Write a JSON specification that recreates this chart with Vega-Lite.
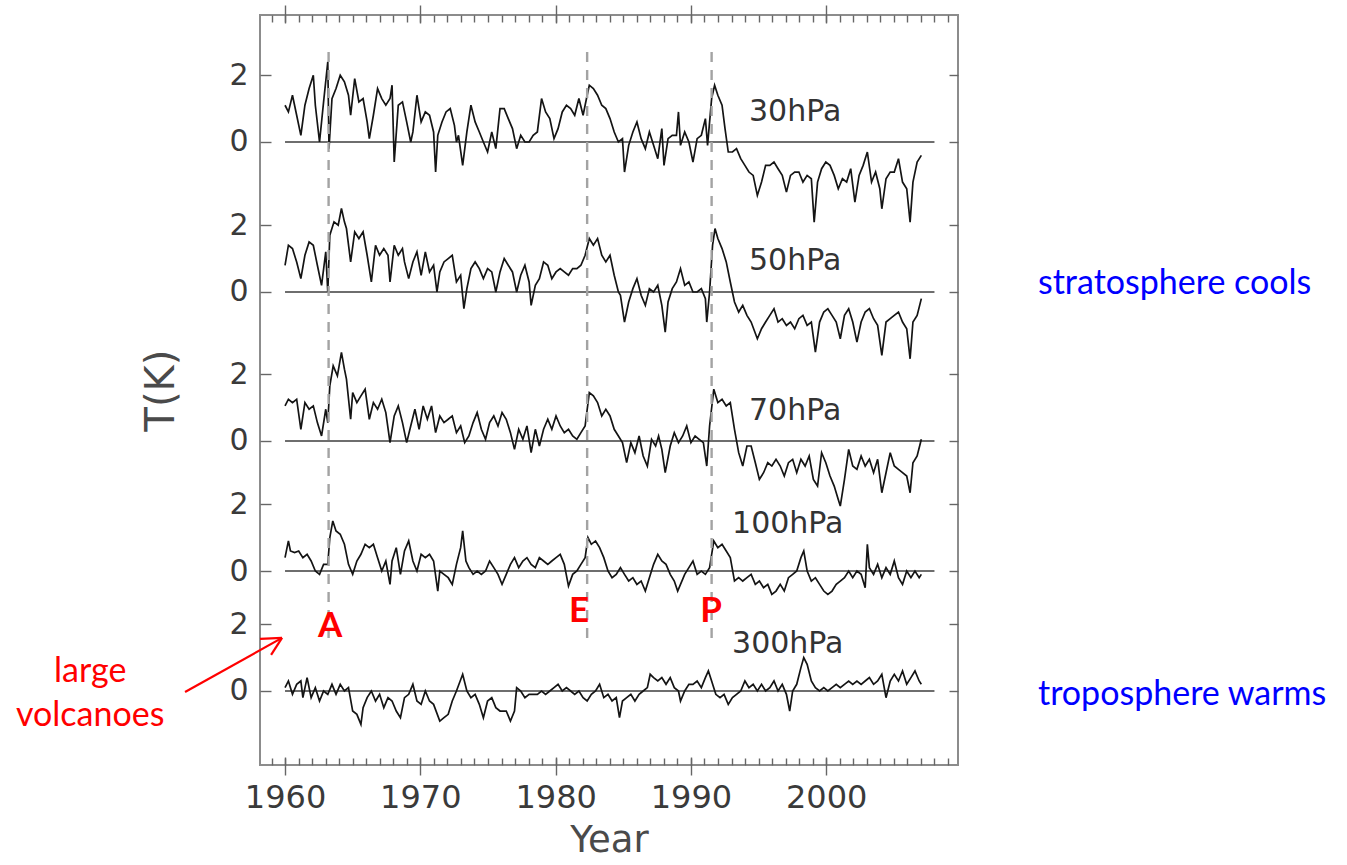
{
"$schema": "https://vega.github.io/schema/vega-lite/v6.json",
"width": 698, "height": 750,
"autosize": "none",
"padding": {"left": 260, "top": 15, "right": 389, "bottom": 100},
"background": "white",
"config": {
 "view": {"stroke": "#8c8c8c", "strokeWidth": 2},
 "axis": {"domain": false, "grid": false, "tickColor": "#666666", "tickWidth": 1.4, "labelColor": "#3a3a3a", "labelFont": "DejaVu Sans", "labelFontSize": 30, "titleFont": "DejaVu Sans", "titleFontWeight": "normal", "titleColor": "#4a4a4a"}
},
"datasets": {
"p30": [{"year":1960.00,"t":1.1},{"year":1960.25,"t":0.9},{"year":1960.55,"t":1.4},{"year":1960.86,"t":0.8},{"year":1961.17,"t":0.2},{"year":1961.47,"t":1.1},{"year":1961.78,"t":1.6},{"year":1962.09,"t":2.0},{"year":1962.24,"t":1.1},{"year":1962.55,"t":0.0},{"year":1962.85,"t":1.2},{"year":1963.16,"t":2.4},{"year":1963.25,"t":-0.2},{"year":1963.47,"t":1.3},{"year":1963.77,"t":1.6},{"year":1964.08,"t":2.0},{"year":1964.39,"t":1.8},{"year":1964.69,"t":1.4},{"year":1964.85,"t":0.8},{"year":1965.15,"t":1.9},{"year":1965.46,"t":1.2},{"year":1965.77,"t":1.3},{"year":1966.07,"t":0.6},{"year":1966.23,"t":0.1},{"year":1966.53,"t":0.8},{"year":1966.84,"t":1.6},{"year":1967.15,"t":1.3},{"year":1967.45,"t":1.1},{"year":1967.76,"t":1.3},{"year":1967.91,"t":1.7},{"year":1968.07,"t":-0.6},{"year":1968.37,"t":1.1},{"year":1968.68,"t":1.2},{"year":1968.99,"t":0.6},{"year":1969.29,"t":0.0},{"year":1969.45,"t":0.3},{"year":1969.75,"t":1.4},{"year":1970.06,"t":0.6},{"year":1970.37,"t":0.9},{"year":1970.68,"t":0.8},{"year":1970.98,"t":0.3},{"year":1971.13,"t":-0.9},{"year":1971.29,"t":0.2},{"year":1971.60,"t":0.6},{"year":1971.90,"t":0.9},{"year":1972.21,"t":1.0},{"year":1972.52,"t":0.5},{"year":1972.67,"t":0.0},{"year":1972.82,"t":0.2},{"year":1973.13,"t":-0.7},{"year":1973.44,"t":0.3},{"year":1973.74,"t":1.1},{"year":1974.05,"t":0.6},{"year":1974.36,"t":0.3},{"year":1974.66,"t":0.0},{"year":1974.97,"t":-0.3},{"year":1975.28,"t":0.3},{"year":1975.58,"t":-0.2},{"year":1975.89,"t":1.0},{"year":1976.20,"t":1.0},{"year":1976.50,"t":0.7},{"year":1976.81,"t":0.4},{"year":1977.12,"t":-0.2},{"year":1977.42,"t":0.2},{"year":1977.73,"t":0.0},{"year":1978.04,"t":0.0},{"year":1978.34,"t":0.2},{"year":1978.65,"t":0.3},{"year":1978.96,"t":1.3},{"year":1979.26,"t":0.9},{"year":1979.57,"t":0.7},{"year":1979.88,"t":0.1},{"year":1980.18,"t":0.4},{"year":1980.49,"t":0.9},{"year":1980.80,"t":1.1},{"year":1981.11,"t":1.0},{"year":1981.41,"t":0.8},{"year":1981.72,"t":1.3},{"year":1982.03,"t":0.8},{"year":1982.33,"t":1.4},{"year":1982.49,"t":1.7},{"year":1982.79,"t":1.6},{"year":1983.10,"t":1.4},{"year":1983.41,"t":1.1},{"year":1983.71,"t":1.0},{"year":1984.02,"t":0.7},{"year":1984.33,"t":0.3},{"year":1984.64,"t":0.0},{"year":1984.94,"t":0.1},{"year":1985.09,"t":-0.9},{"year":1985.40,"t":-0.1},{"year":1985.71,"t":0.3},{"year":1986.01,"t":0.6},{"year":1986.32,"t":0.1},{"year":1986.63,"t":-0.2},{"year":1986.93,"t":0.3},{"year":1987.24,"t":-0.1},{"year":1987.55,"t":-0.5},{"year":1987.85,"t":0.4},{"year":1988.01,"t":-0.7},{"year":1988.31,"t":0.1},{"year":1988.62,"t":0.2},{"year":1988.93,"t":0.2},{"year":1989.08,"t":0.9},{"year":1989.23,"t":-0.1},{"year":1989.54,"t":0.3},{"year":1989.85,"t":0.0},{"year":1990.15,"t":-0.6},{"year":1990.46,"t":0.1},{"year":1990.77,"t":0.2},{"year":1991.07,"t":0.7},{"year":1991.23,"t":-0.1},{"year":1991.53,"t":1.3},{"year":1991.75,"t":1.7},{"year":1991.99,"t":1.4},{"year":1992.30,"t":1.1},{"year":1992.52,"t":0.4},{"year":1992.76,"t":-0.3},{"year":1993.07,"t":-0.3},{"year":1993.37,"t":-0.2},{"year":1993.68,"t":-0.5},{"year":1993.99,"t":-0.7},{"year":1994.29,"t":-0.9},{"year":1994.60,"t":-1.0},{"year":1994.91,"t":-1.6},{"year":1995.22,"t":-1.2},{"year":1995.52,"t":-0.7},{"year":1995.83,"t":-0.7},{"year":1996.14,"t":-0.6},{"year":1996.44,"t":-0.8},{"year":1996.75,"t":-1.0},{"year":1997.06,"t":-1.5},{"year":1997.36,"t":-1.0},{"year":1997.67,"t":-0.9},{"year":1997.98,"t":-0.9},{"year":1998.28,"t":-1.2},{"year":1998.59,"t":-1.0},{"year":1998.90,"t":-1.1},{"year":1999.11,"t":-2.4},{"year":1999.36,"t":-1.2},{"year":1999.66,"t":-0.8},{"year":1999.97,"t":-0.6},{"year":2000.28,"t":-0.7},{"year":2000.59,"t":-1.0},{"year":2000.89,"t":-1.4},{"year":2001.20,"t":-1.1},{"year":2001.51,"t":-1.2},{"year":2001.81,"t":-0.8},{"year":2002.12,"t":-1.8},{"year":2002.43,"t":-1.0},{"year":2002.73,"t":-0.7},{"year":2003.04,"t":-0.3},{"year":2003.35,"t":-1.2},{"year":2003.65,"t":-0.9},{"year":2003.96,"t":-1.4},{"year":2004.11,"t":-2.0},{"year":2004.42,"t":-1.1},{"year":2004.73,"t":-0.9},{"year":2005.03,"t":-0.9},{"year":2005.34,"t":-0.5},{"year":2005.64,"t":-1.2},{"year":2005.95,"t":-1.4},{"year":2006.20,"t":-2.4},{"year":2006.41,"t":-1.2},{"year":2006.72,"t":-0.6},{"year":2007.03,"t":-0.4}],
"p50": [{"year":1960.00,"t":0.8},{"year":1960.25,"t":1.4},{"year":1960.55,"t":1.3},{"year":1960.86,"t":0.9},{"year":1961.17,"t":0.4},{"year":1961.47,"t":1.1},{"year":1961.78,"t":1.5},{"year":1962.09,"t":1.4},{"year":1962.39,"t":0.8},{"year":1962.70,"t":0.2},{"year":1963.01,"t":1.2},{"year":1963.16,"t":0.0},{"year":1963.31,"t":1.7},{"year":1963.62,"t":2.1},{"year":1963.93,"t":2.0},{"year":1964.17,"t":2.5},{"year":1964.39,"t":2.1},{"year":1964.54,"t":1.9},{"year":1964.85,"t":0.9},{"year":1965.15,"t":1.8},{"year":1965.46,"t":1.6},{"year":1965.77,"t":1.8},{"year":1966.07,"t":1.1},{"year":1966.38,"t":0.3},{"year":1966.69,"t":1.4},{"year":1966.99,"t":1.1},{"year":1967.30,"t":1.3},{"year":1967.61,"t":1.1},{"year":1967.76,"t":0.3},{"year":1968.07,"t":1.4},{"year":1968.37,"t":1.1},{"year":1968.68,"t":1.3},{"year":1968.83,"t":0.9},{"year":1969.14,"t":0.4},{"year":1969.45,"t":0.9},{"year":1969.75,"t":1.2},{"year":1970.06,"t":0.5},{"year":1970.37,"t":1.2},{"year":1970.68,"t":0.6},{"year":1970.98,"t":0.8},{"year":1971.23,"t":0.0},{"year":1971.44,"t":0.6},{"year":1971.75,"t":0.9},{"year":1972.06,"t":1.0},{"year":1972.36,"t":1.1},{"year":1972.67,"t":0.3},{"year":1972.98,"t":0.5},{"year":1973.22,"t":-0.5},{"year":1973.44,"t":0.1},{"year":1973.74,"t":0.7},{"year":1974.05,"t":0.9},{"year":1974.36,"t":0.7},{"year":1974.66,"t":0.4},{"year":1974.97,"t":0.7},{"year":1975.28,"t":0.6},{"year":1975.58,"t":0.0},{"year":1975.89,"t":0.6},{"year":1976.20,"t":1.0},{"year":1976.50,"t":0.8},{"year":1976.81,"t":0.6},{"year":1977.12,"t":0.0},{"year":1977.42,"t":0.5},{"year":1977.73,"t":0.8},{"year":1978.04,"t":0.3},{"year":1978.19,"t":-0.4},{"year":1978.50,"t":0.2},{"year":1978.80,"t":0.4},{"year":1979.11,"t":0.9},{"year":1979.42,"t":0.8},{"year":1979.72,"t":0.4},{"year":1980.03,"t":0.6},{"year":1980.34,"t":0.7},{"year":1980.64,"t":0.6},{"year":1980.95,"t":0.5},{"year":1981.26,"t":0.7},{"year":1981.57,"t":0.7},{"year":1981.87,"t":0.8},{"year":1982.18,"t":1.1},{"year":1982.49,"t":1.6},{"year":1982.79,"t":1.4},{"year":1983.10,"t":1.6},{"year":1983.41,"t":1.1},{"year":1983.71,"t":0.9},{"year":1984.02,"t":1.1},{"year":1984.33,"t":0.5},{"year":1984.64,"t":0.0},{"year":1984.79,"t":-0.1},{"year":1985.09,"t":-0.9},{"year":1985.40,"t":-0.3},{"year":1985.71,"t":0.1},{"year":1986.01,"t":0.4},{"year":1986.32,"t":-0.1},{"year":1986.63,"t":-0.4},{"year":1986.93,"t":0.1},{"year":1987.24,"t":0.0},{"year":1987.55,"t":0.2},{"year":1987.85,"t":-0.4},{"year":1988.10,"t":-1.2},{"year":1988.31,"t":-0.3},{"year":1988.62,"t":0.1},{"year":1988.93,"t":0.3},{"year":1989.23,"t":0.7},{"year":1989.54,"t":0.2},{"year":1989.85,"t":0.3},{"year":1990.15,"t":0.0},{"year":1990.46,"t":0.0},{"year":1990.77,"t":0.1},{"year":1991.07,"t":-0.2},{"year":1991.17,"t":-0.9},{"year":1991.38,"t":0.0},{"year":1991.60,"t":1.4},{"year":1991.78,"t":1.9},{"year":1991.99,"t":1.6},{"year":1992.30,"t":1.3},{"year":1992.61,"t":0.9},{"year":1992.91,"t":0.3},{"year":1993.22,"t":-0.3},{"year":1993.53,"t":-0.6},{"year":1993.83,"t":-0.4},{"year":1994.14,"t":-0.7},{"year":1994.45,"t":-0.9},{"year":1994.91,"t":-1.4},{"year":1995.22,"t":-1.1},{"year":1995.52,"t":-0.9},{"year":1995.83,"t":-0.7},{"year":1996.14,"t":-0.5},{"year":1996.44,"t":-0.9},{"year":1996.75,"t":-0.8},{"year":1997.06,"t":-1.0},{"year":1997.36,"t":-0.9},{"year":1997.67,"t":-1.1},{"year":1997.98,"t":-0.8},{"year":1998.28,"t":-0.7},{"year":1998.59,"t":-1.0},{"year":1998.90,"t":-0.9},{"year":1999.20,"t":-1.8},{"year":1999.51,"t":-0.9},{"year":1999.82,"t":-0.6},{"year":2000.12,"t":-0.5},{"year":2000.43,"t":-0.7},{"year":2000.74,"t":-0.9},{"year":2001.04,"t":-1.4},{"year":2001.35,"t":-0.7},{"year":2001.66,"t":-0.5},{"year":2001.96,"t":-0.9},{"year":2002.27,"t":-1.5},{"year":2002.58,"t":-0.9},{"year":2002.88,"t":-0.6},{"year":2003.19,"t":-0.5},{"year":2003.50,"t":-0.8},{"year":2003.80,"t":-1.0},{"year":2004.11,"t":-1.9},{"year":2004.42,"t":-0.9},{"year":2004.73,"t":-0.8},{"year":2005.03,"t":-0.7},{"year":2005.34,"t":-0.6},{"year":2005.64,"t":-0.9},{"year":2005.95,"t":-1.1},{"year":2006.20,"t":-2.0},{"year":2006.41,"t":-0.9},{"year":2006.72,"t":-0.7},{"year":2007.03,"t":-0.2}],
"p70": [{"year":1960.00,"t":1.05},{"year":1960.25,"t":1.25},{"year":1960.55,"t":1.15},{"year":1960.86,"t":1.25},{"year":1961.17,"t":0.35},{"year":1961.47,"t":1.15},{"year":1961.78,"t":0.95},{"year":1962.09,"t":1.05},{"year":1962.39,"t":0.55},{"year":1962.70,"t":0.15},{"year":1963.01,"t":0.95},{"year":1963.16,"t":0.55},{"year":1963.31,"t":1.65},{"year":1963.56,"t":2.25},{"year":1963.87,"t":1.95},{"year":1964.17,"t":2.65},{"year":1964.39,"t":2.15},{"year":1964.54,"t":1.85},{"year":1964.85,"t":0.65},{"year":1965.00,"t":1.45},{"year":1965.31,"t":1.15},{"year":1965.61,"t":1.35},{"year":1965.92,"t":1.55},{"year":1966.23,"t":0.65},{"year":1966.53,"t":1.15},{"year":1966.84,"t":0.95},{"year":1967.15,"t":1.25},{"year":1967.45,"t":0.85},{"year":1967.76,"t":-0.05},{"year":1968.07,"t":0.75},{"year":1968.37,"t":1.05},{"year":1968.68,"t":0.55},{"year":1968.99,"t":-0.05},{"year":1969.29,"t":0.45},{"year":1969.60,"t":0.95},{"year":1969.91,"t":0.35},{"year":1970.21,"t":1.05},{"year":1970.52,"t":0.65},{"year":1970.83,"t":1.05},{"year":1971.13,"t":0.25},{"year":1971.44,"t":0.75},{"year":1971.75,"t":0.55},{"year":1972.06,"t":0.65},{"year":1972.36,"t":0.75},{"year":1972.67,"t":0.25},{"year":1972.98,"t":0.45},{"year":1973.28,"t":-0.05},{"year":1973.59,"t":0.15},{"year":1973.90,"t":0.55},{"year":1974.20,"t":0.85},{"year":1974.51,"t":0.35},{"year":1974.82,"t":0.05},{"year":1975.12,"t":0.55},{"year":1975.43,"t":0.75},{"year":1975.74,"t":0.45},{"year":1976.04,"t":0.85},{"year":1976.35,"t":0.65},{"year":1976.66,"t":0.25},{"year":1976.96,"t":-0.25},{"year":1977.27,"t":0.35},{"year":1977.58,"t":0.05},{"year":1977.88,"t":0.45},{"year":1978.19,"t":-0.35},{"year":1978.50,"t":0.35},{"year":1978.80,"t":-0.15},{"year":1979.11,"t":0.35},{"year":1979.42,"t":0.65},{"year":1979.72,"t":0.35},{"year":1980.03,"t":0.75},{"year":1980.34,"t":0.45},{"year":1980.64,"t":0.25},{"year":1980.95,"t":0.35},{"year":1981.26,"t":0.15},{"year":1981.57,"t":0.05},{"year":1981.87,"t":0.25},{"year":1982.18,"t":0.45},{"year":1982.49,"t":1.45},{"year":1982.79,"t":1.35},{"year":1983.10,"t":1.15},{"year":1983.41,"t":0.75},{"year":1983.71,"t":0.95},{"year":1984.02,"t":0.75},{"year":1984.33,"t":0.35},{"year":1984.64,"t":0.15},{"year":1984.94,"t":-0.05},{"year":1985.25,"t":-0.65},{"year":1985.56,"t":-0.05},{"year":1985.86,"t":-0.35},{"year":1986.17,"t":0.15},{"year":1986.47,"t":-0.45},{"year":1986.78,"t":-0.75},{"year":1987.09,"t":0.05},{"year":1987.39,"t":-0.15},{"year":1987.61,"t":0.15},{"year":1987.85,"t":-0.25},{"year":1988.10,"t":-0.95},{"year":1988.47,"t":-0.15},{"year":1988.77,"t":0.25},{"year":1989.08,"t":-0.05},{"year":1989.39,"t":0.15},{"year":1989.69,"t":0.45},{"year":1990.00,"t":-0.05},{"year":1990.31,"t":0.15},{"year":1990.61,"t":0.05},{"year":1990.92,"t":-0.05},{"year":1991.17,"t":-0.75},{"year":1991.38,"t":0.45},{"year":1991.69,"t":1.55},{"year":1991.99,"t":1.15},{"year":1992.30,"t":1.25},{"year":1992.61,"t":1.05},{"year":1992.91,"t":1.15},{"year":1993.22,"t":0.35},{"year":1993.53,"t":-0.35},{"year":1993.83,"t":-0.75},{"year":1994.14,"t":-0.15},{"year":1994.45,"t":-0.15},{"year":1994.76,"t":-0.65},{"year":1995.06,"t":-1.15},{"year":1995.37,"t":-0.95},{"year":1995.68,"t":-0.65},{"year":1995.98,"t":-0.75},{"year":1996.29,"t":-0.55},{"year":1996.60,"t":-0.75},{"year":1996.90,"t":-1.05},{"year":1997.21,"t":-0.65},{"year":1997.52,"t":-0.55},{"year":1997.82,"t":-0.95},{"year":1998.13,"t":-0.55},{"year":1998.44,"t":-0.75},{"year":1998.74,"t":-0.45},{"year":1999.05,"t":-1.15},{"year":1999.36,"t":-1.35},{"year":1999.66,"t":-0.35},{"year":1999.97,"t":-0.65},{"year":2000.28,"t":-1.05},{"year":2000.59,"t":-1.35},{"year":2000.89,"t":-1.75},{"year":2001.04,"t":-1.95},{"year":2001.35,"t":-1.15},{"year":2001.66,"t":-0.25},{"year":2001.96,"t":-0.75},{"year":2002.27,"t":-0.85},{"year":2002.58,"t":-0.45},{"year":2002.88,"t":-0.75},{"year":2003.19,"t":-0.55},{"year":2003.50,"t":-0.95},{"year":2003.80,"t":-0.55},{"year":2004.11,"t":-1.55},{"year":2004.42,"t":-0.95},{"year":2004.73,"t":-0.35},{"year":2005.03,"t":-0.75},{"year":2005.34,"t":-0.85},{"year":2005.64,"t":-0.95},{"year":2005.95,"t":-1.05},{"year":2006.20,"t":-1.55},{"year":2006.41,"t":-0.65},{"year":2006.72,"t":-0.45},{"year":2007.03,"t":0.05}],
"p100": [{"year":1960.00,"t":0.4},{"year":1960.25,"t":0.9},{"year":1960.40,"t":0.6},{"year":1960.71,"t":0.55},{"year":1961.01,"t":0.6},{"year":1961.32,"t":0.4},{"year":1961.63,"t":0.5},{"year":1961.93,"t":0.3},{"year":1962.24,"t":0.0},{"year":1962.55,"t":-0.1},{"year":1962.85,"t":0.2},{"year":1963.16,"t":0.2},{"year":1963.31,"t":1.0},{"year":1963.53,"t":1.5},{"year":1963.77,"t":1.2},{"year":1964.08,"t":1.1},{"year":1964.39,"t":0.8},{"year":1964.69,"t":0.2},{"year":1965.00,"t":-0.1},{"year":1965.31,"t":0.3},{"year":1965.61,"t":0.5},{"year":1965.92,"t":0.8},{"year":1966.23,"t":0.7},{"year":1966.53,"t":0.8},{"year":1966.84,"t":0.4},{"year":1967.15,"t":0.0},{"year":1967.45,"t":0.3},{"year":1967.76,"t":-0.4},{"year":1967.91,"t":0.3},{"year":1968.22,"t":0.7},{"year":1968.53,"t":-0.1},{"year":1968.83,"t":0.6},{"year":1969.14,"t":0.9},{"year":1969.45,"t":0.3},{"year":1969.75,"t":0.0},{"year":1970.06,"t":0.5},{"year":1970.37,"t":0.4},{"year":1970.68,"t":0.5},{"year":1970.98,"t":0.3},{"year":1971.29,"t":-0.6},{"year":1971.44,"t":0.0},{"year":1971.75,"t":-0.1},{"year":1972.06,"t":-0.2},{"year":1972.36,"t":-0.4},{"year":1972.67,"t":0.2},{"year":1972.98,"t":0.7},{"year":1973.13,"t":1.2},{"year":1973.37,"t":0.3},{"year":1973.59,"t":0.1},{"year":1973.90,"t":-0.1},{"year":1974.20,"t":0.0},{"year":1974.51,"t":-0.1},{"year":1974.82,"t":0.0},{"year":1975.12,"t":0.3},{"year":1975.43,"t":0.1},{"year":1975.74,"t":-0.1},{"year":1976.04,"t":-0.4},{"year":1976.35,"t":-0.1},{"year":1976.66,"t":0.2},{"year":1976.96,"t":0.4},{"year":1977.27,"t":0.1},{"year":1977.58,"t":0.3},{"year":1977.88,"t":0.4},{"year":1978.19,"t":0.2},{"year":1978.50,"t":0.1},{"year":1978.80,"t":0.4},{"year":1979.11,"t":0.3},{"year":1979.42,"t":0.2},{"year":1979.72,"t":0.3},{"year":1980.03,"t":0.4},{"year":1980.34,"t":0.5},{"year":1980.64,"t":0.2},{"year":1980.95,"t":-0.45},{"year":1981.26,"t":-0.1},{"year":1981.57,"t":0.0},{"year":1981.87,"t":0.2},{"year":1982.18,"t":0.4},{"year":1982.39,"t":1.0},{"year":1982.64,"t":0.8},{"year":1982.95,"t":0.9},{"year":1983.25,"t":0.7},{"year":1983.56,"t":0.4},{"year":1983.87,"t":0.0},{"year":1984.17,"t":-0.2},{"year":1984.48,"t":-0.1},{"year":1984.79,"t":0.1},{"year":1985.09,"t":-0.1},{"year":1985.40,"t":-0.3},{"year":1985.71,"t":-0.2},{"year":1986.01,"t":-0.4},{"year":1986.32,"t":-0.3},{"year":1986.63,"t":-0.6},{"year":1986.93,"t":-0.2},{"year":1987.24,"t":0.2},{"year":1987.55,"t":0.5},{"year":1987.85,"t":0.3},{"year":1988.16,"t":0.2},{"year":1988.47,"t":-0.1},{"year":1988.77,"t":-0.3},{"year":1989.02,"t":-0.6},{"year":1989.23,"t":-0.4},{"year":1989.54,"t":-0.1},{"year":1989.85,"t":0.1},{"year":1990.15,"t":0.3},{"year":1990.46,"t":-0.1},{"year":1990.77,"t":0.0},{"year":1991.07,"t":-0.1},{"year":1991.38,"t":0.1},{"year":1991.69,"t":0.9},{"year":1991.99,"t":0.7},{"year":1992.30,"t":0.8},{"year":1992.61,"t":0.6},{"year":1992.91,"t":0.4},{"year":1993.22,"t":-0.3},{"year":1993.53,"t":-0.2},{"year":1993.83,"t":-0.3},{"year":1994.14,"t":-0.2},{"year":1994.45,"t":-0.1},{"year":1994.76,"t":-0.4},{"year":1995.06,"t":-0.3},{"year":1995.37,"t":-0.5},{"year":1995.68,"t":-0.4},{"year":1995.98,"t":-0.7},{"year":1996.29,"t":-0.6},{"year":1996.60,"t":-0.4},{"year":1996.90,"t":-0.6},{"year":1997.21,"t":-0.2},{"year":1997.52,"t":-0.1},{"year":1997.82,"t":0.0},{"year":1998.13,"t":0.4},{"year":1998.34,"t":0.6},{"year":1998.59,"t":0.0},{"year":1998.90,"t":-0.3},{"year":1999.20,"t":-0.2},{"year":1999.51,"t":-0.4},{"year":1999.82,"t":-0.6},{"year":2000.12,"t":-0.7},{"year":2000.43,"t":-0.6},{"year":2000.74,"t":-0.4},{"year":2001.04,"t":-0.3},{"year":2001.35,"t":-0.2},{"year":2001.66,"t":0.0},{"year":2001.96,"t":-0.2},{"year":2002.27,"t":0.0},{"year":2002.58,"t":-0.1},{"year":2002.88,"t":-0.5},{"year":2003.04,"t":0.8},{"year":2003.19,"t":0.1},{"year":2003.50,"t":-0.1},{"year":2003.80,"t":0.2},{"year":2004.11,"t":-0.2},{"year":2004.42,"t":0.1},{"year":2004.73,"t":-0.1},{"year":2005.03,"t":0.3},{"year":2005.34,"t":-0.2},{"year":2005.64,"t":-0.4},{"year":2005.95,"t":0.0},{"year":2006.26,"t":-0.2},{"year":2006.56,"t":0.0},{"year":2006.87,"t":-0.2},{"year":2007.03,"t":-0.1}],
"p300": [{"year":1960.00,"t":0.1},{"year":1960.25,"t":0.3},{"year":1960.55,"t":-0.1},{"year":1960.86,"t":0.2},{"year":1961.17,"t":0.3},{"year":1961.32,"t":-0.2},{"year":1961.63,"t":0.4},{"year":1961.93,"t":-0.2},{"year":1962.24,"t":0.1},{"year":1962.55,"t":-0.3},{"year":1962.85,"t":0.0},{"year":1963.16,"t":-0.1},{"year":1963.47,"t":0.2},{"year":1963.77,"t":-0.1},{"year":1964.08,"t":0.2},{"year":1964.39,"t":0.0},{"year":1964.69,"t":0.1},{"year":1965.00,"t":-0.6},{"year":1965.31,"t":-0.7},{"year":1965.61,"t":-1.0},{"year":1965.77,"t":-0.5},{"year":1966.07,"t":-0.2},{"year":1966.38,"t":0.0},{"year":1966.69,"t":-0.3},{"year":1966.99,"t":-0.1},{"year":1967.30,"t":-0.5},{"year":1967.61,"t":-0.2},{"year":1967.91,"t":-0.3},{"year":1968.22,"t":-0.6},{"year":1968.53,"t":-0.8},{"year":1968.83,"t":-0.2},{"year":1969.14,"t":-0.1},{"year":1969.45,"t":0.2},{"year":1969.75,"t":-0.3},{"year":1970.06,"t":-0.4},{"year":1970.37,"t":0.0},{"year":1970.68,"t":-0.3},{"year":1970.98,"t":-0.4},{"year":1971.44,"t":-0.9},{"year":1971.75,"t":-0.8},{"year":1972.06,"t":-0.7},{"year":1972.36,"t":-0.3},{"year":1972.67,"t":0.0},{"year":1973.13,"t":0.5},{"year":1973.44,"t":0.0},{"year":1973.74,"t":-0.2},{"year":1974.05,"t":-0.1},{"year":1974.36,"t":-0.4},{"year":1974.66,"t":-0.8},{"year":1974.97,"t":-0.3},{"year":1975.28,"t":-0.2},{"year":1975.58,"t":-0.5},{"year":1975.89,"t":-0.6},{"year":1976.35,"t":-0.6},{"year":1976.66,"t":-0.9},{"year":1976.96,"t":-0.6},{"year":1977.12,"t":0.1},{"year":1977.42,"t":0.0},{"year":1977.73,"t":-0.2},{"year":1978.04,"t":-0.1},{"year":1978.34,"t":-0.1},{"year":1978.65,"t":-0.1},{"year":1978.96,"t":0.0},{"year":1979.26,"t":-0.1},{"year":1979.57,"t":0.0},{"year":1979.88,"t":0.1},{"year":1980.18,"t":0.2},{"year":1980.49,"t":0.0},{"year":1980.80,"t":0.1},{"year":1981.11,"t":0.0},{"year":1981.41,"t":-0.1},{"year":1981.72,"t":0.0},{"year":1982.03,"t":-0.2},{"year":1982.33,"t":-0.3},{"year":1982.64,"t":-0.1},{"year":1982.95,"t":0.0},{"year":1983.25,"t":0.2},{"year":1983.56,"t":-0.2},{"year":1983.87,"t":-0.1},{"year":1984.17,"t":-0.3},{"year":1984.48,"t":-0.2},{"year":1984.72,"t":-0.8},{"year":1984.94,"t":-0.3},{"year":1985.25,"t":-0.2},{"year":1985.56,"t":-0.1},{"year":1985.86,"t":-0.3},{"year":1986.17,"t":-0.1},{"year":1986.47,"t":0.0},{"year":1986.78,"t":0.1},{"year":1986.99,"t":0.5},{"year":1987.24,"t":0.4},{"year":1987.55,"t":0.3},{"year":1987.85,"t":0.4},{"year":1988.16,"t":0.2},{"year":1988.47,"t":0.4},{"year":1988.77,"t":0.1},{"year":1989.08,"t":0.0},{"year":1989.23,"t":-0.3},{"year":1989.54,"t":0.0},{"year":1989.85,"t":0.2},{"year":1990.15,"t":0.2},{"year":1990.46,"t":0.3},{"year":1990.77,"t":0.1},{"year":1991.07,"t":0.4},{"year":1991.29,"t":0.6},{"year":1991.53,"t":0.3},{"year":1991.84,"t":-0.1},{"year":1992.15,"t":-0.2},{"year":1992.45,"t":-0.1},{"year":1992.76,"t":-0.4},{"year":1993.07,"t":-0.2},{"year":1993.37,"t":-0.1},{"year":1993.68,"t":0.0},{"year":1993.99,"t":0.3},{"year":1994.29,"t":0.1},{"year":1994.60,"t":0.2},{"year":1994.91,"t":0.0},{"year":1995.22,"t":0.2},{"year":1995.52,"t":0.0},{"year":1995.83,"t":0.1},{"year":1996.14,"t":0.3},{"year":1996.44,"t":0.0},{"year":1996.75,"t":0.2},{"year":1997.06,"t":-0.1},{"year":1997.30,"t":-0.6},{"year":1997.52,"t":0.0},{"year":1997.82,"t":0.2},{"year":1998.13,"t":0.7},{"year":1998.34,"t":1.0},{"year":1998.59,"t":0.8},{"year":1998.90,"t":0.3},{"year":1999.20,"t":0.1},{"year":1999.51,"t":0.0},{"year":1999.82,"t":0.1},{"year":2000.12,"t":0.0},{"year":2000.43,"t":0.1},{"year":2000.74,"t":0.2},{"year":2001.04,"t":0.1},{"year":2001.35,"t":0.2},{"year":2001.66,"t":0.3},{"year":2001.96,"t":0.2},{"year":2002.27,"t":0.3},{"year":2002.58,"t":0.2},{"year":2002.88,"t":0.3},{"year":2003.19,"t":0.4},{"year":2003.50,"t":0.2},{"year":2003.80,"t":0.3},{"year":2004.11,"t":0.5},{"year":2004.42,"t":-0.2},{"year":2004.73,"t":0.3},{"year":2005.03,"t":0.5},{"year":2005.34,"t":0.3},{"year":2005.64,"t":0.6},{"year":2005.95,"t":0.2},{"year":2006.26,"t":0.4},{"year":2006.56,"t":0.6},{"year":2006.87,"t":0.3},{"year":2007.03,"t":0.2}],
"volc": [{"volcano":"Agung","year":1963.22},{"volcano":"El Chichón","year":1982.33},{"volcano":"Pinatubo","year":1991.53}]
},
"layer": [
 {"data": {"name": "p30"},
  "layer": [
   {"data": {"values": [{}]}, "mark": {"type": "rule", "color": "#6e6e6e", "strokeWidth": 1.8},
    "encoding": {"x": {"datum": 1960, "type": "quantitative", "scale": {"domain": [1958.15, 2009.74], "nice": false, "zero": false}, "axis": {"orient": "top", "values": [1960,1970,1980,1990,2000], "offset": -8, "tickSize": 18, "labels": false, "title": null}}, "x2": {"datum": 2008}, "y": {"datum": 0, "type": "quantitative", "axis": null}}},
   {"mark": {"type": "line", "color": "#141414", "strokeWidth": 1.7},
    "encoding": {"x": {"field": "year", "type": "quantitative", "scale": {"domain": [1958.15, 2009.74], "nice": false, "zero": false}, "axis": null},
                 "y": {"field": "t", "type": "quantitative", "scale": {"domain": [-18.653, 3.802], "nice": false, "zero": false}, "axis": {"orient": "left", "values": [0, 2], "format": "d", "offset": -11, "tickSize": 11, "labelPadding": 12, "title": "T(K)", "titleFontSize": 40, "titlePadding": 47}}}},
   {"data": {"values": [{"level": "30hPa"}]}, "mark": {"type": "text", "font": "DejaVu Sans", "fontSize": 30, "color": "#333333", "align": "left", "baseline": "alphabetic"},
    "encoding": {"x": {"datum": 1994.29, "type": "quantitative", "axis": null}, "y": {"datum": 0.63, "type": "quantitative", "axis": {"orient": "right", "values": [0, 2], "offset": -9, "tickSize": 9, "labels": false, "title": null}}, "text": {"field": "level"}}}
  ],
  "resolve": {"axis": {"x": "independent", "y": "independent"}}
 },
 {"data": {"name": "p50"},
  "layer": [
   {"data": {"values": [{}]}, "mark": {"type": "rule", "color": "#6e6e6e", "strokeWidth": 1.8},
    "encoding": {"x": {"datum": 1960, "type": "quantitative", "scale": {"domain": [1958.15, 2009.74], "nice": false, "zero": false}, "axis": {"orient": "top", "values": [1959,1960,1961,1962,1963,1964,1965,1966,1967,1968,1969,1970,1971,1972,1973,1974,1975,1976,1977,1978,1979,1980,1981,1982,1983,1984,1985,1986,1987,1988,1989,1990,1991,1992,1993,1994,1995,1996,1997,1998,1999,2000,2001,2002,2003,2004,2005,2006,2007,2008,2009], "offset": -7, "tickSize": 7, "labels": false, "title": null}}, "x2": {"datum": 2008}, "y": {"datum": 0, "type": "quantitative", "axis": null}}},
   {"mark": {"type": "line", "color": "#141414", "strokeWidth": 1.7},
    "encoding": {"x": {"field": "year", "type": "quantitative", "scale": {"domain": [1958.15, 2009.74], "nice": false, "zero": false}, "axis": null},
                 "y": {"field": "t", "type": "quantitative", "scale": {"domain": [-14.162, 8.293], "nice": false, "zero": false}, "axis": {"orient": "left", "values": [0, 2], "format": "d", "offset": -11, "tickSize": 11, "labelPadding": 12, "title": null}}}},
   {"data": {"values": [{"level": "50hPa"}]}, "mark": {"type": "text", "font": "DejaVu Sans", "fontSize": 30, "color": "#333333", "align": "left", "baseline": "alphabetic"},
    "encoding": {"x": {"datum": 1994.29, "type": "quantitative", "axis": null}, "y": {"datum": 0.66, "type": "quantitative", "axis": {"orient": "right", "values": [0, 2], "offset": -9, "tickSize": 9, "labels": false, "title": null}}, "text": {"field": "level"}}},
   {"data": {"values": [{}]}, "mark": {"type": "text", "text": "stratosphere cools", "font": "Lato", "fontSize": 34, "color": "#0000ff", "align": "left", "baseline": "alphabetic"},
    "encoding": {"x": {"datum": 2015.65, "type": "quantitative", "axis": null}, "y": {"datum": -0.06, "type": "quantitative", "axis": null}}}
  ],
  "resolve": {"axis": {"x": "independent", "y": "independent"}}
 },
 {"data": {"name": "p70"},
  "layer": [
   {"data": {"values": [{}]}, "mark": {"type": "rule", "color": "#6e6e6e", "strokeWidth": 1.8},
    "encoding": {"x": {"datum": 1960, "type": "quantitative", "scale": {"domain": [1958.15, 2009.74], "nice": false, "zero": false}, "axis": {"orient": "bottom", "values": [1959,1960,1961,1962,1963,1964,1965,1966,1967,1968,1969,1970,1971,1972,1973,1974,1975,1976,1977,1978,1979,1980,1981,1982,1983,1984,1985,1986,1987,1988,1989,1990,1991,1992,1993,1994,1995,1996,1997,1998,1999,2000,2001,2002,2003,2004,2005,2006,2007,2008,2009], "offset": -7, "tickSize": 7, "labels": false, "title": null}}, "x2": {"datum": 2008}, "y": {"datum": 0, "type": "quantitative", "axis": null}}},
   {"mark": {"type": "line", "color": "#141414", "strokeWidth": 1.7},
    "encoding": {"x": {"field": "year", "type": "quantitative", "scale": {"domain": [1958.15, 2009.74], "nice": false, "zero": false}, "axis": null},
                 "y": {"field": "t", "type": "quantitative", "scale": {"domain": [-9.701, 12.754], "nice": false, "zero": false}, "axis": {"orient": "left", "values": [0, 2], "format": "d", "offset": -11, "tickSize": 11, "labelPadding": 12, "title": null}}}},
   {"data": {"values": [{"level": "70hPa"}]}, "mark": {"type": "text", "font": "DejaVu Sans", "fontSize": 30, "color": "#333333", "align": "left", "baseline": "alphabetic"},
    "encoding": {"x": {"datum": 1994.29, "type": "quantitative", "axis": null}, "y": {"datum": 0.63, "type": "quantitative", "axis": {"orient": "right", "values": [0, 2], "offset": -9, "tickSize": 9, "labels": false, "title": null}}, "text": {"field": "level"}}}
  ],
  "resolve": {"axis": {"x": "independent", "y": "independent"}}
 },
 {"data": {"name": "p100"},
  "layer": [
   {"data": {"values": [{}]}, "mark": {"type": "rule", "color": "#6e6e6e", "strokeWidth": 1.8},
    "encoding": {"x": {"datum": 1960, "type": "quantitative", "scale": {"domain": [1958.15, 2009.74], "nice": false, "zero": false}, "axis": {"orient": "bottom", "values": [1960,1970,1980,1990,2000], "format": "d", "offset": -8, "tickSize": 18, "labelPadding": 7, "labelFontSize": 32, "title": "Year", "titleFontSize": 37, "titlePadding": 9}}, "x2": {"datum": 2008}, "y": {"datum": 0, "type": "quantitative", "axis": null}}},
   {"mark": {"type": "line", "color": "#141414", "strokeWidth": 1.7},
    "encoding": {"x": {"field": "year", "type": "quantitative", "scale": {"domain": [1958.15, 2009.74], "nice": false, "zero": false}, "axis": null},
                 "y": {"field": "t", "type": "quantitative", "scale": {"domain": [-5.808, 16.647], "nice": false, "zero": false}, "axis": {"orient": "left", "values": [0, 2], "format": "d", "offset": -11, "tickSize": 11, "labelPadding": 12, "title": null}}}},
   {"data": {"values": [{"level": "100hPa"}]}, "mark": {"type": "text", "font": "DejaVu Sans", "fontSize": 30, "color": "#333333", "align": "left", "baseline": "alphabetic"},
    "encoding": {"x": {"datum": 1993.04, "type": "quantitative", "axis": null}, "y": {"datum": 1.14, "type": "quantitative", "axis": {"orient": "right", "values": [0, 2], "offset": -9, "tickSize": 9, "labels": false, "title": null}}, "text": {"field": "level"}}}
  ],
  "resolve": {"axis": {"x": "independent", "y": "independent"}}
 },
 {"data": {"name": "p300"},
  "layer": [
   {"data": {"values": [{}]}, "mark": {"type": "rule", "color": "#6e6e6e", "strokeWidth": 1.8},
    "encoding": {"x": {"datum": 1960, "type": "quantitative", "scale": {"domain": [1958.15, 2009.74], "nice": false, "zero": false}, "axis": null}, "x2": {"datum": 2008}, "y": {"datum": 0, "type": "quantitative", "axis": null}}},
   {"mark": {"type": "line", "color": "#141414", "strokeWidth": 1.7},
    "encoding": {"x": {"field": "year", "type": "quantitative", "scale": {"domain": [1958.15, 2009.74], "nice": false, "zero": false}, "axis": null},
                 "y": {"field": "t", "type": "quantitative", "scale": {"domain": [-2.216, 20.24], "nice": false, "zero": false}, "axis": {"orient": "left", "values": [0, 2], "format": "d", "offset": -11, "tickSize": 11, "labelPadding": 12, "title": null}}}},
   {"data": {"values": [{"level": "300hPa"}]}, "mark": {"type": "text", "font": "DejaVu Sans", "fontSize": 30, "color": "#333333", "align": "left", "baseline": "alphabetic"},
    "encoding": {"x": {"datum": 1993.04, "type": "quantitative", "axis": null}, "y": {"datum": 1.14, "type": "quantitative", "axis": {"orient": "right", "values": [0, 2], "offset": -9, "tickSize": 9, "labels": false, "title": null}}, "text": {"field": "level"}}},
   {"data": {"name": "volc"}, "mark": {"type": "rule", "color": "#a3a3a3", "strokeWidth": 2.4, "strokeDash": [10, 8]},
    "encoding": {"x": {"field": "year", "type": "quantitative", "axis": null}, "y": {"datum": 19.13, "type": "quantitative", "axis": null}, "y2": {"datum": 1.44}}},
   {"data": {"values": [{}]}, "mark": {"type": "text", "text": "A", "font": "Lato", "fontWeight": "bold", "fontSize": 35, "color": "#ff0000", "align": "center", "baseline": "alphabetic"},
    "encoding": {"x": {"datum": 1963.33, "type": "quantitative", "axis": null}, "y": {"datum": 1.62, "type": "quantitative", "axis": null}}},
   {"data": {"values": [{}]}, "mark": {"type": "text", "text": "E", "font": "Lato", "fontWeight": "bold", "fontSize": 35, "color": "#ff0000", "align": "center", "baseline": "alphabetic"},
    "encoding": {"x": {"datum": 1981.73, "type": "quantitative", "axis": null}, "y": {"datum": 2.07, "type": "quantitative", "axis": null}}},
   {"data": {"values": [{}]}, "mark": {"type": "text", "text": "P", "font": "Lato", "fontWeight": "bold", "fontSize": 35, "color": "#ff0000", "align": "center", "baseline": "alphabetic"},
    "encoding": {"x": {"datum": 1991.49, "type": "quantitative", "axis": null}, "y": {"datum": 2.07, "type": "quantitative", "axis": null}}},
   {"data": {"values": [{}]}, "mark": {"type": "rule", "color": "#ff0000", "strokeWidth": 2.2},
    "encoding": {"x": {"datum": 1952.61, "type": "quantitative", "axis": null}, "x2": {"datum": 1959.78}, "y": {"datum": -0.03, "type": "quantitative", "axis": null}, "y2": {"datum": 1.59}}},
   {"data": {"values": [{}]}, "mark": {"type": "rule", "color": "#ff0000", "strokeWidth": 2.2},
    "encoding": {"x": {"datum": 1958.15, "type": "quantitative", "axis": null}, "x2": {"datum": 1959.78}, "y": {"datum": 1.56, "type": "quantitative", "axis": null}, "y2": {"datum": 1.59}}},
   {"data": {"values": [{}]}, "mark": {"type": "rule", "color": "#ff0000", "strokeWidth": 2.2},
    "encoding": {"x": {"datum": 1958.97, "type": "quantitative", "axis": null}, "x2": {"datum": 1959.78}, "y": {"datum": 1.08, "type": "quantitative", "axis": null}, "y2": {"datum": 1.59}}},
   {"data": {"values": [{}]}, "mark": {"type": "text", "text": "large", "font": "Lato", "fontSize": 34, "color": "#ff0000", "align": "center", "baseline": "alphabetic"},
    "encoding": {"x": {"datum": 1945.6, "type": "quantitative", "axis": null}, "y": {"datum": 0.27, "type": "quantitative", "axis": null}}},
   {"data": {"values": [{}]}, "mark": {"type": "text", "text": "volcanoes", "font": "Lato", "fontSize": 34, "color": "#ff0000", "align": "center", "baseline": "alphabetic"},
    "encoding": {"x": {"datum": 1945.6, "type": "quantitative", "axis": null}, "y": {"datum": -1.05, "type": "quantitative", "axis": null}}},
   {"data": {"values": [{}]}, "mark": {"type": "text", "text": "troposphere warms", "font": "Lato", "fontSize": 34, "color": "#0000ff", "align": "left", "baseline": "alphabetic"},
    "encoding": {"x": {"datum": 2015.65, "type": "quantitative", "axis": null}, "y": {"datum": -0.42, "type": "quantitative", "axis": null}}}
  ],
  "resolve": {"axis": {"x": "independent", "y": "independent"}}
 }
],
"resolve": {"scale": {"y": "independent"}, "axis": {"x": "independent", "y": "independent"}}
}
